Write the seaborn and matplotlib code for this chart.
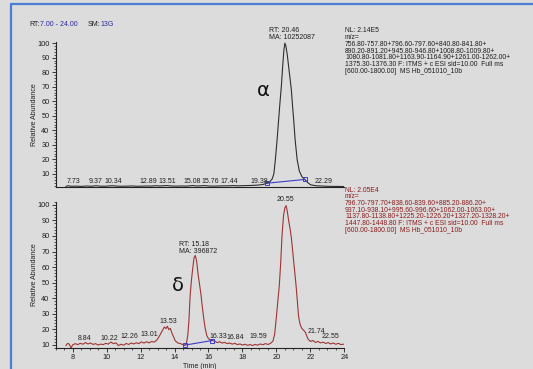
import numpy as np
import pandas as pd
import matplotlib
matplotlib.use("Agg")
import matplotlib.pyplot as plt
import seaborn as sns
from matplotlib.lines import Line2D
from matplotlib.ticker import MultipleLocator

# ---------------- data ----------------
alpha_time = [7.6, 7.73, 7.9, 8.2, 8.5, 8.8, 9.1, 9.37, 9.6, 9.9, 10.1, 10.34, 10.6, 10.9, 11.2,
              11.5, 11.8, 12.1, 12.4, 12.6, 12.89, 13.1, 13.3, 13.51, 13.8, 14.1, 14.4, 14.7, 15.08,
              15.3, 15.5, 15.76, 16.0, 16.3, 16.6, 16.9, 17.2, 17.44, 17.7, 18.0, 18.3, 18.6, 18.9,
              19.2, 19.44, 19.6, 19.75, 19.85, 19.94, 20.03, 20.13, 20.21, 20.29, 20.37, 20.44, 20.5,
              20.56, 20.64, 20.72, 20.8, 20.88, 20.95, 21.02, 21.1, 21.22, 21.35, 21.51, 21.67, 21.85,
              22.0, 22.2, 22.4, 22.6, 22.8, 23.0, 23.3, 23.6, 24.0]
alpha_abund = [1.4, 1.9, 1.5, 1.6, 1.4, 1.7, 1.5, 1.9, 1.6, 1.5, 1.7, 1.9, 1.6, 1.5, 1.6,
               1.7, 1.5, 1.6, 1.7, 1.6, 1.9, 1.7, 1.8, 2.0, 1.7, 1.6, 1.7, 1.6, 2.0,
               1.7, 1.8, 2.0, 1.7, 1.6, 1.7, 1.8, 1.8, 2.0, 1.8, 1.9, 2.0, 2.1, 2.3,
               2.7, 3.6, 4.5, 6.5, 10, 20, 32, 47, 59, 70, 84, 95, 100,
               98, 92, 84, 76, 68, 57, 47, 34, 20, 12, 8, 6.2, 4.0,
               2.6, 2.1, 1.8, 1.7, 1.6, 1.5, 1.4, 1.4, 1.3]

delta_time = [7.6, 7.7, 7.8, 7.9, 8.0, 8.15, 8.3, 8.45, 8.6, 8.75, 8.9, 9.05, 9.2, 9.35, 9.5, 9.65,
              9.8, 9.95, 10.1, 10.25, 10.4, 10.55, 10.7, 10.85, 11.0, 11.15, 11.3, 11.45, 11.6, 11.75,
              11.9, 12.05, 12.2, 12.35, 12.5, 12.65, 12.8, 12.95, 13.1, 13.25, 13.4, 13.5, 13.58,
              13.66, 13.75, 13.85, 13.95, 14.05, 14.2, 14.35, 14.5, 14.6, 14.7, 14.78, 14.85, 14.92,
              15.0, 15.08, 15.15, 15.22, 15.3, 15.38, 15.46, 15.55, 15.63, 15.72, 15.8, 15.9, 16.0,
              16.1, 16.2, 16.35, 16.5, 16.65, 16.8, 16.95, 17.1, 17.25, 17.4, 17.55, 17.7, 17.85,
              18.0, 18.15, 18.3, 18.45, 18.6, 18.75, 18.9, 19.05, 19.2, 19.35, 19.5, 19.65, 19.8,
              19.9, 20.0, 20.1, 20.17, 20.25, 20.33, 20.42, 20.5, 20.57, 20.64, 20.72, 20.8, 20.88,
              20.96, 21.05, 21.16, 21.25, 21.31, 21.4, 21.5, 21.6, 21.71, 21.85, 22.0, 22.15, 22.3,
              22.45, 22.6, 22.75, 22.9, 23.05, 23.2, 23.35, 23.5, 23.65, 23.8, 24.0]
delta_abund = [9.5, 11, 10.5, 8, 10, 10.8, 10.2, 11, 10.4, 11.5, 10.6, 11.2, 10.3, 10.8, 9.9, 10.5,
               10.2, 11, 10.5, 11.8, 10.8, 11.3, 9.6, 10.4, 9.8, 10.9, 10.3, 11.2, 10.6, 11.4,
               10.8, 11.9, 11.2, 12, 11.3, 12.2, 11.8, 13, 15.5, 18.5, 21.5, 20.5, 22,
               19.8, 20.6, 17.5, 15, 12.5, 11.2, 10.8, 10.2, 9.8, 11, 16, 26, 42,
               52, 60, 66, 67.5, 64, 56, 50, 43, 35, 27, 21, 16, 14,
               13.2, 12.8, 12.5, 11.5, 12, 11.2, 11.6, 10.8, 11.2, 10.5, 11, 10.2, 10.6,
               9.9, 10.4, 9.7, 10.2, 9.6, 10.3, 9.8, 10.6, 10.1, 10.8, 10.3, 10.9, 12.5,
               17, 28, 40, 48, 62, 80, 93, 98, 99.5, 96, 90, 85, 79,
               70, 60, 48, 36, 28, 23, 20.5, 19.5, 18, 14, 12.2, 12.8, 11.6,
               12.2, 11.3, 11.8, 10.9, 11.5, 10.6, 11.2, 10.4, 11, 10.2, 10.5]

alpha_labels = ["7.73", "9.37", "10.34", "12.89", "13.51", "15.08", "15.76", "17.44", "19.38", "22.29"]
delta_labels = ["8.84", "10.22", "12.26", "13.01", "13.53", "16.33", "16.84", "19.59", "20.55", "21.74", "22.55"]

alpha_base_t = [19.44, 21.67]
alpha_base_v = [3.6, 6.2]
delta_base_t = [14.59, 16.2]
delta_base_v = [9.8, 12.8]

alpha_info = ["NL: 2.14E5", "m/z=",
              "756.80-757.80+796.60-797.60+840.80-841.80+",
              "890.20-891.20+945.80-946.80+1008.80-1009.80+",
              "1080.80-1081.80+1163.90-1164.90+1261.00-1262.00+",
              "1375.30-1376.30 F: ITMS + c ESI sid=10.00  Full ms",
              "[600.00-1800.00]  MS Hb_051010_10b"]
delta_info = ["NL: 2.05E4", "m/z=",
              "796.70-797.70+838.60-839.60+885.20-886.20+",
              "937.10-938.10+995.60-996.60+1062.00-1063.00+",
              "1137.80-1138.80+1225.20-1226.20+1327.20-1328.20+",
              "1447.80-1448.80 F: ITMS + c ESI sid=10.00  Full ms",
              "[600.00-1800.00]  MS Hb_051010_10b"]

y_ticks = [10, 20, 30, 40, 50, 60, 70, 80, 90, 100]
x_ticks = [8, 10, 12, 14, 16, 18, 20, 22, 24]

# --------------- layout/styles ---------------
BG = "#dcdcdc"
TOP_C = "#2e2e2e"
RED_C = "#9e3434"
RED_TXT = "#8b1c1c"
BLUE = "#3b3bc8"
INK = "#1e1e1e"

sns.set_theme(style="ticks")
plt.rcParams["font.family"] = ["Liberation Sans", "DejaVu Sans"]

W, H = 533, 369
fig = plt.figure(figsize=(W / 100, H / 100), dpi=100, facecolor=BG)

def fx(px):
    return px / W

def fy(py):
    return 1 - py / H

ax1 = fig.add_axes([fx(55.7), fy(187), fx(344.3) - fx(55.7), fy(41.7) - fy(187)])
ax2 = fig.add_axes([fx(55.7), fy(348), fx(344.3) - fx(55.7), fy(201.7) - fy(348)])

df_a = pd.DataFrame({"Time (min)": alpha_time, "Relative Abundance": alpha_abund})
df_d = pd.DataFrame({"Time (min)": delta_time, "Relative Abundance": delta_abund})

sns.lineplot(data=df_a, x="Time (min)", y="Relative Abundance", ax=ax1, color=TOP_C,
             linewidth=0.8, sort=False, estimator=None)
sns.lineplot(data=df_d, x="Time (min)", y="Relative Abundance", ax=ax2, color=RED_C,
             linewidth=0.8, sort=False, estimator=None)

for ax, bt, bv in ((ax1, alpha_base_t, alpha_base_v), (ax2, delta_base_t, delta_base_v)):
    ax.plot(bt, bv, color=BLUE, lw=0.8, marker="s", ms=3, mfc="none", mec=BLUE, mew=0.7)

ax1.set_ylim(1, 101)
ax2.set_ylim(8, 102)
for ax in (ax1, ax2):
    ax.set_facecolor(BG)
    ax.set_xlim(7, 24)
    for s in ("top", "right"):
        ax.spines[s].set_visible(False)
    for s in ("left", "bottom"):
        ax.spines[s].set_linewidth(0.8)
        ax.spines[s].set_color("#222222")
    ax.set_yticks(y_ticks)
    ax.yaxis.set_minor_locator(MultipleLocator(2))
    ax.tick_params(axis="y", which="major", length=3, width=0.6, labelsize=5.3, pad=1.5, colors=INK)
    ax.tick_params(axis="y", which="minor", length=1.5, width=0.5, colors=INK)
    ax.set_ylabel("Relative Abundance", fontsize=5, color=INK)
    ax.yaxis.set_label_coords(-0.061, 0.5)

ax1.set_xticks([])
ax1.set_xlabel("")
ax2.set_xticks(x_ticks)
ax2.xaxis.set_minor_locator(MultipleLocator(0.5))
ax2.tick_params(axis="x", which="major", length=3, width=0.6, labelsize=5.3, pad=1.5, colors=INK)
ax2.tick_params(axis="x", which="minor", length=1.5, width=0.5, colors=INK)
ax2.set_xlabel("Time (min)", fontsize=5, color=INK, labelpad=1)

# peak labels
a_lab_x = [8.04, 9.32, 10.4, 12.46, 13.55, 15.07, 16.12, 17.2, 18.98, 22.77]
for s, x in zip(alpha_labels, a_lab_x):
    ax1.text(x, 4.7, s, fontsize=5, ha="center", va="center", color=INK, clip_on=False)

d_lab_x = [8.7, 10.17, 11.32, 12.5, 13.62, 16.6, 17.58, 18.95, 20.55, 22.35, 23.2]
d_lab_y = [13.8, 13.8, 15.3, 16.4, 25.3, 15.3, 14.8, 15.3, 103.2, 18.5, 15.3]
for s, x, y in zip(delta_labels, d_lab_x, d_lab_y):
    ax2.text(x, y, s, fontsize=5, ha="center", va="center", color=INK, clip_on=False)

ax1.text(19.54, 108.9, "RT: 20.46", fontsize=5, ha="left", va="center", color=INK, clip_on=False)
ax1.text(19.54, 104.1, "MA: 10252087", fontsize=5, ha="left", va="center", color=INK, clip_on=False)
ax2.text(14.27, 74.5, "RT: 15.18", fontsize=5, ha="left", va="center", color=INK, clip_on=False)
ax2.text(14.27, 70.0, "MA: 396872", fontsize=5, ha="left", va="center", color=INK, clip_on=False)

ax1.text(19.24, 67.7, "α", fontsize=14, ha="center", va="center", color="#111111",
         family=["DejaVu Sans"])
ax2.text(14.22, 48.2, "δ", fontsize=14, ha="center", va="center", color="#111111",
         family=["DejaVu Sans"])

# info blocks
for i, s in enumerate(alpha_info):
    fig.text(fx(345), fy(31 + i * 6.7), s, fontsize=4.85, ha="left", va="center", color=INK)
for i, s in enumerate(delta_info):
    fig.text(fx(345), fy(190 + i * 6.7), s, fontsize=4.85, ha="left", va="center", color=RED_TXT)

# header
fig.text(fx(29), fy(24), "RT:", fontsize=5, ha="left", va="center", color=INK)
fig.text(fx(40), fy(24), "7.00 - 24.00", fontsize=5, ha="left", va="center", color="#2a2aa0")
fig.text(fx(88), fy(24), "SM:", fontsize=5, ha="left", va="center", color=INK)
fig.text(fx(100), fy(24), "13G", fontsize=5, ha="left", va="center", color="#2a2aa0")

# blue frame
fig.add_artist(Line2D([fx(11), 1], [fy(4.3), fy(4.3)], color="#4a7fd8", lw=1.6))
fig.add_artist(Line2D([fx(11), fx(11)], [0, fy(4.3)], color="#4a7fd8", lw=1.6))

fig.savefig("out.png", dpi=100, facecolor=BG)
